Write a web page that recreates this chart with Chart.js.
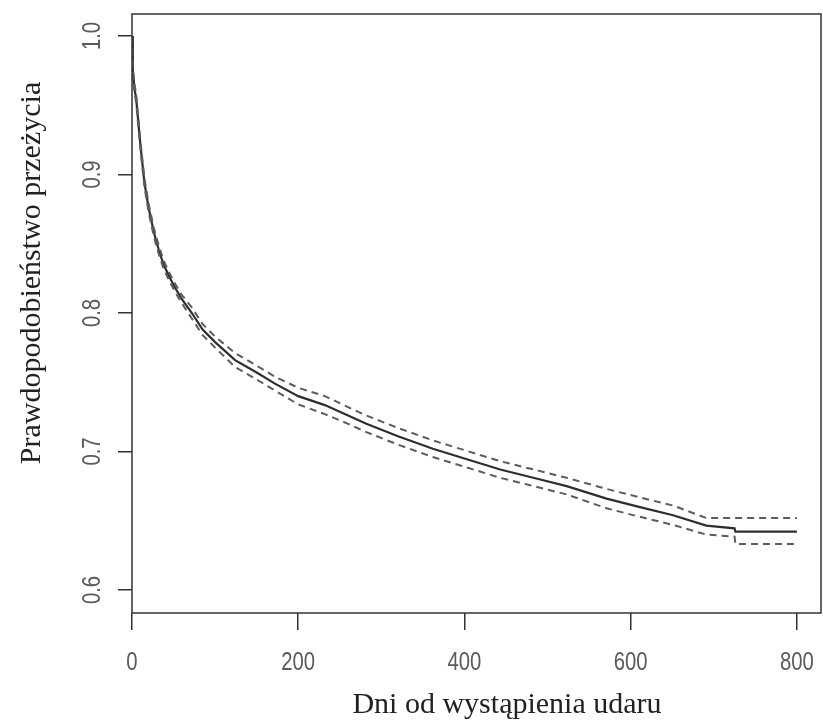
<!DOCTYPE html>
<html lang="pl">
  <head>
    <meta charset="UTF-8" />
    <title>Krzywa przeżycia</title>
    <script src="https://cdn.jsdelivr.net/npm/chart.js"></script>
    <style>
      html, body {
        margin: 0;
        padding: 0;
        background: #ffffff;
      }
      #wrap {
        width: 823px;
        height: 722px;
        position: relative;
      }
    </style>
  </head>
  <body>
    <div id="wrap">
      <canvas id="wykres"></canvas>
    </div>

    <script>
      // dni od udaru i oszacowanie przezycia
      const czas = [0, 1, 3, 5, 10, 15, 20, 26, 32, 38, 45, 52, 60, 72, 85, 100, 124, 150, 172, 200,
        232, 260, 282, 320, 362, 400, 443, 490, 523, 571, 610, 651, 691, 725, 726, 800];
      const przezycie = [1.0, 0.975, 0.962, 0.955, 0.922, 0.894, 0.876, 0.859, 0.846, 0.835, 0.826, 0.818,
        0.81, 0.8, 0.788, 0.779, 0.766, 0.757, 0.749, 0.74, 0.7335, 0.726, 0.72, 0.711, 0.702, 0.695,
        0.687, 0.68, 0.675, 0.666, 0.66, 0.654, 0.6465, 0.6445, 0.6421, 0.6421];
      const gornaGranica = [1.0, 0.977, 0.965, 0.958, 0.925, 0.897, 0.879, 0.862, 0.849, 0.838, 0.829, 0.821,
        0.813, 0.804, 0.792, 0.783, 0.771, 0.762, 0.754, 0.746, 0.74, 0.732, 0.726, 0.717, 0.708, 0.701,
        0.693, 0.686, 0.681, 0.673, 0.667, 0.661, 0.652, 0.652, 0.652, 0.652];
      const dolnaGranica = [1.0, 0.973, 0.959, 0.952, 0.919, 0.891, 0.873, 0.856, 0.843, 0.832, 0.823, 0.815,
        0.807, 0.796, 0.784, 0.775, 0.761, 0.752, 0.744, 0.734, 0.727, 0.72, 0.714, 0.705, 0.696, 0.689,
        0.681, 0.674, 0.669, 0.659, 0.653, 0.647, 0.64, 0.6385, 0.6332, 0.6332];

      const xTicks = [0, 200, 400, 600, 800];
      const yTicks = [0.6, 0.7, 0.8, 0.9, 1.0];
      const tytulX = "Dni od wystąpienia udaru";
      const tytulY = "Prawdopodobieństwo przeżycia";

      const punkty = (wartosci) => czas.map((t, i) => ({ x: t, y: wartosci[i] }));

      const fontCyfry = '26px "Liberation Sans", Arial, sans-serif';
      const fontTytul = '30px "Liberation Serif", "DejaVu Serif", serif';

      // cyfry waskie jak w R (Helvetica Narrow)
      const waskiTekst = (c, tekst, x, y, obrot) => {
        c.save();
        c.translate(x, y);
        if (obrot) c.rotate(obrot);
        c.scale(0.78, 1);
        c.fillText(tekst, 0, 0);
        c.restore();
      };

      // ramka, opisy osi i tytuly osi (styl wykresu z R)
      const ramkaR = {
        id: "ramkaR",
        afterDraw(chart) {
          const { ctx, chartArea, scales } = chart;
          ctx.save();
          ctx.strokeStyle = "#333";
          ctx.lineWidth = 1.5;
          ctx.strokeRect(chartArea.left, chartArea.top, chartArea.right - chartArea.left, chartArea.bottom - chartArea.top);

          ctx.fillStyle = "#5a5a5a";
          ctx.font = fontCyfry;
          ctx.textAlign = "center";
          ctx.textBaseline = "middle";
          yTicks.forEach((v) => {
            waskiTekst(ctx, v.toFixed(1), 93, scales.y.getPixelForValue(v), -Math.PI / 2);
          });
          xTicks.forEach((v) => {
            waskiTekst(ctx, String(v), scales.x.getPixelForValue(v), 663, 0);
          });

          ctx.fillStyle = "#222";
          ctx.font = fontTytul;
          ctx.textBaseline = "alphabetic";
          ctx.fillText(tytulX, 507, 713);

          ctx.save();
          ctx.translate(40, 273);
          ctx.rotate(-Math.PI / 2);
          ctx.fillText(tytulY, 0, 0);
          ctx.restore();
          ctx.restore();
        },
      };

      const ctx = document.getElementById("wykres").getContext("2d");
      new Chart(ctx, {
        type: "line",
        data: {
          datasets: [
            {
              label: "Górna granica",
              data: punkty(gornaGranica),
              borderColor: "#5c5c5c",
              borderWidth: 2,
              borderDash: [7, 5],
              pointRadius: 0,
              fill: false,
            },
            {
              label: "Dolna granica",
              data: punkty(dolnaGranica),
              borderColor: "#5c5c5c",
              borderWidth: 2,
              borderDash: [7, 5],
              pointRadius: 0,
              fill: false,
            },
            {
              label: "Przeżycie",
              data: punkty(przezycie),
              borderColor: "#2e2e2e",
              borderWidth: 2.2,
              pointRadius: 0,
              fill: false,
            },
          ],
        },
        options: {
          responsive: true,
          maintainAspectRatio: false,
          animation: false,
          events: [],
          layout: {
            padding: { top: 14, right: 2, left: 0, bottom: 0 },
          },
          plugins: {
            legend: { display: false },
            tooltip: { enabled: false },
          },
          scales: {
            x: {
              type: "linear",
              min: 0,
              max: 829,
              afterBuildTicks: (s) => {
                s.ticks = xTicks.map((v) => ({ value: v }));
              },
              afterFit: (s) => {
                s.height = 109;
                s.paddingLeft = 0;
                s.paddingRight = 0;
              },
              grid: {
                drawOnChartArea: false,
                drawTicks: true,
                tickLength: 17,
                color: "#333",
                lineWidth: 1.5,
              },
              border: { display: false },
              ticks: { display: false },
            },
            y: {
              type: "linear",
              min: 0.5834,
              max: 1.0159,
              afterBuildTicks: (s) => {
                s.ticks = yTicks.map((v) => ({ value: v }));
              },
              afterFit: (s) => {
                s.width = 132;
                s.paddingTop = 0;
                s.paddingBottom = 0;
              },
              grid: {
                drawOnChartArea: false,
                drawTicks: true,
                tickLength: 14,
                color: "#333",
                lineWidth: 1.5,
              },
              border: { display: false },
              ticks: { display: false },
            },
          },
        },
        plugins: [ramkaR],
      });
    </script>
  </body>
</html>
